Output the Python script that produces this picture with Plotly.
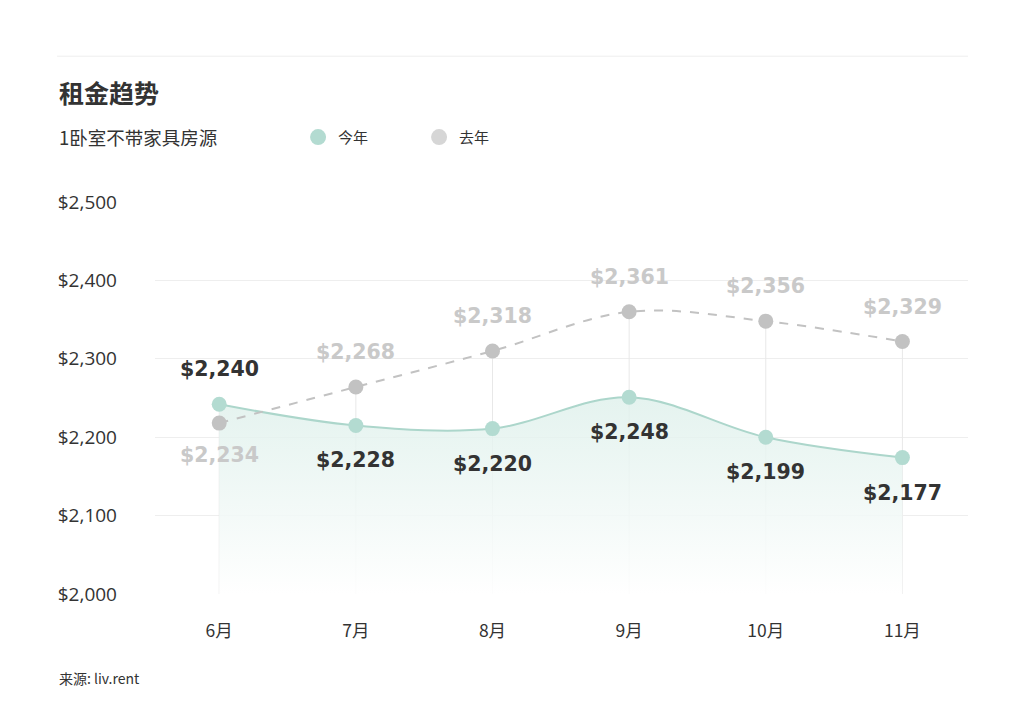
import plotly.graph_objects as go

months = ["6月", "7月", "8月", "9月", "10月", "11月"]
this_year = [2242, 2215, 2211, 2251, 2200, 2174]
last_year = [2218, 2264, 2310, 2360, 2348, 2322]
this_year_labels = ["$2,240", "$2,228", "$2,220", "$2,248", "$2,199", "$2,177"]
last_year_labels = ["$2,234", "$2,268", "$2,318", "$2,361", "$2,356", "$2,329"]
this_year_label_side = [1, -1, -1, -1, -1, -1]
last_year_label_side = [-1, 1, 1, 1, 1, 1]
y_ticks = [2000, 2100, 2200, 2300, 2400, 2500]
y_tick_text = ["$2,000", "$2,100", "$2,200", "$2,300", "$2,400", "$2,500"]

TEAL = "#b3dbd1"
TEAL_LINE = "#acd6cb"
GREY = "#c2c2c2"
DARK = "#333333"
LIGHT_LABEL = "#c9c9c9"
CJK = "Noto Sans CJK SC"
NUM_FONT = "DejaVu Sans, Noto Sans CJK SC"

x_idx = list(range(len(months)))

fig = go.Figure()

# vertical guide lines from baseline to the higher point
vx, vy = [], []
for i in x_idx:
    vx += [i, i, None]
    vy += [y_ticks[0], max(this_year[i], last_year[i]), None]
fig.add_trace(go.Scatter(x=vx, y=vy, mode="lines", line=dict(color="#e8e8e8", width=1),
                         hoverinfo="skip", showlegend=False))

# this year area
fig.add_trace(go.Scatter(
    x=x_idx, y=this_year, mode="lines", line=dict(color=TEAL_LINE, width=2, shape="spline", smoothing=1),
    fill="tozeroy",
    fillgradient=dict(type="vertical", start=y_ticks[0], stop=max(this_year),
                      colorscale=[[0, "rgba(255,255,255,0.9)"], [1, "rgba(222,240,235,0.8)"]]),
    hoverinfo="skip", showlegend=False))

# last year dashed line
fig.add_trace(go.Scatter(
    x=x_idx, y=last_year, mode="lines",
    line=dict(color=GREY, width=2, dash="dash", shape="spline", smoothing=1),
    hoverinfo="skip", showlegend=False))

# markers
fig.add_trace(go.Scatter(x=x_idx, y=last_year, mode="markers",
                         marker=dict(color=GREY, size=15), showlegend=False, hoverinfo="skip"))
fig.add_trace(go.Scatter(x=x_idx, y=this_year, mode="markers",
                         marker=dict(color=TEAL, size=15), showlegend=False, hoverinfo="skip"))

# legend entries
fig.add_trace(go.Scatter(x=[None], y=[None], mode="markers", marker=dict(color=TEAL, size=16), name="今年"))
fig.add_trace(go.Scatter(x=[None], y=[None], mode="markers", marker=dict(color="#d6d6d6", size=16), name="去年"))

# value labels
for i in x_idx:
    s = this_year_label_side[i]
    fig.add_annotation(x=i, y=this_year[i], text="<b>%s</b>" % this_year_labels[i], showarrow=False,
                       yshift=35 if s > 0 else -35,
                       font=dict(family=NUM_FONT, size=20.5, color=DARK))
    s = last_year_label_side[i]
    fig.add_annotation(x=i, y=last_year[i], text="<b>%s</b>" % last_year_labels[i], showarrow=False,
                       yshift=35 if s > 0 else -32,
                       font=dict(family=NUM_FONT, size=20.5, color=LIGHT_LABEL))

# titles
LEFT = -0.1205
fig.add_annotation(xref="paper", yref="paper", x=LEFT, y=1.28, xanchor="left", yanchor="middle",
                   text="<b>租金趋势</b>", showarrow=False, font=dict(family=CJK, size=25, color=DARK))
fig.add_annotation(xref="paper", yref="paper", x=LEFT, y=1.165, xanchor="left", yanchor="middle",
                   text="1卧室不带家具房源", showarrow=False, font=dict(family=CJK, size=18.5, color=DARK))
fig.add_annotation(xref="paper", yref="paper", x=LEFT, y=-0.215, xanchor="left", yanchor="middle",
                   text="来源: liv.rent", showarrow=False, font=dict(family=CJK, size=14, color=DARK))
fig.add_shape(type="line", xref="paper", yref="paper", x0=LEFT, x1=1, y0=1.372, y1=1.372,
              line=dict(color="#eeeeee", width=1))

fig.update_layout(
    width=1024, height=717,
    margin=dict(l=155, r=56, t=202, b=123),
    paper_bgcolor="white", plot_bgcolor="white",
    font=dict(family=CJK, color=DARK),
    showlegend=True,
    legend=dict(orientation="h", x=0.176, y=1.165, xanchor="left", yanchor="middle",
                entrywidth=76, entrywidthmode="pixels",
                font=dict(family=CJK, size=15, color=DARK), itemsizing="trace"),
    hovermode=False,
)
fig.update_xaxes(range=[-0.47, 5.48], tickmode="array", tickvals=x_idx, ticktext=months,
                 showgrid=False, zeroline=False, showline=False, ticks="",
                 tickfont=dict(family=CJK, size=17.5, color=DARK), ticklabelstandoff=24)
fig.update_yaxes(range=[y_ticks[0], y_ticks[-1]], tickmode="array", tickvals=y_ticks, ticktext=y_tick_text,
                 showgrid=True, gridcolor="#eeeeee", gridwidth=1, zeroline=False, showline=False, ticks="",
                 tickfont=dict(family="Open Sans, Noto Sans", size=19, color=DARK), ticklabelstandoff=37)

fig.write_html("out.html")
